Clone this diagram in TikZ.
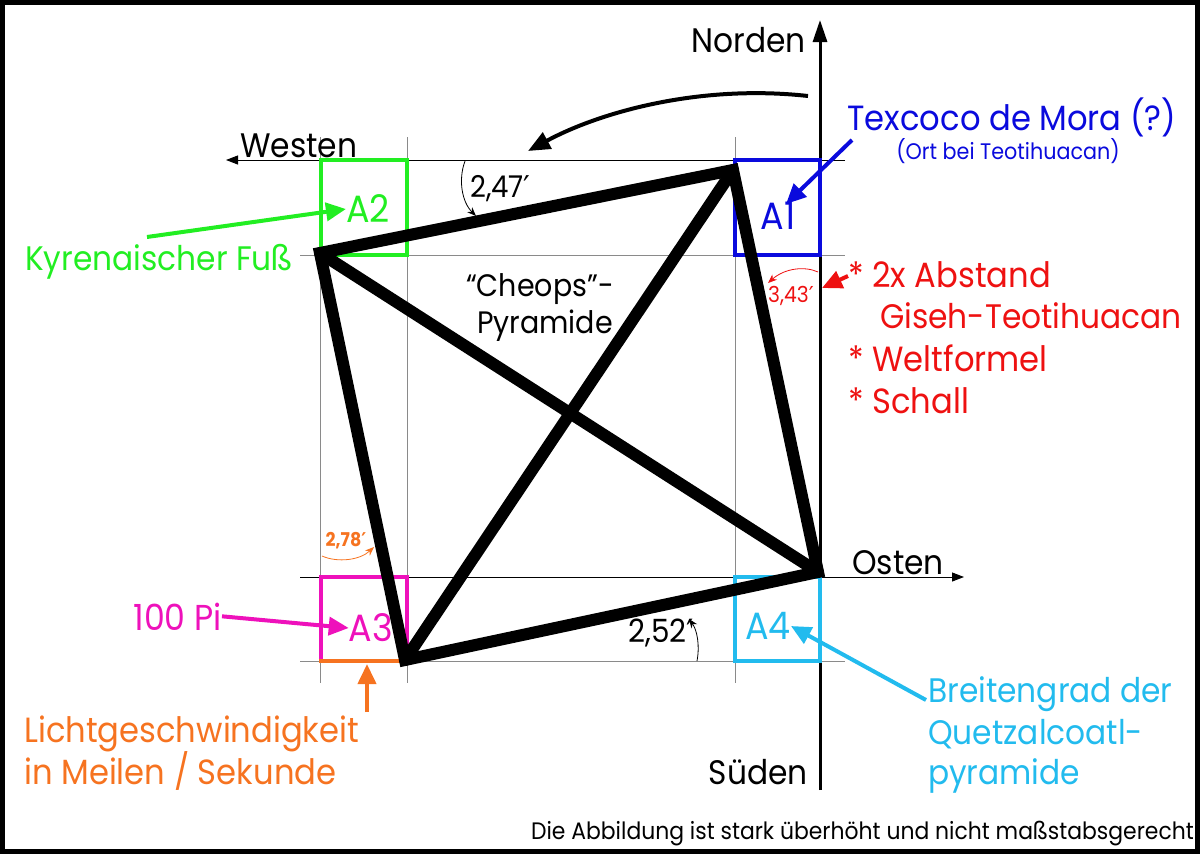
\documentclass[tikz,border=0pt]{standalone}
\usepackage{fontspec}
\setmainfont[FakeStretch=0.92]{Poppins}
\newfontfamily\primefont{DejaVu Sans}
\newcommand{\pr}{{\primefont ′}}
\usetikzlibrary{arrows.meta}
\definecolor{cgreen}{HTML}{22EE22}
\definecolor{cblue}{HTML}{0A0ADD}
\definecolor{cred}{HTML}{EE1111}
\definecolor{cmag}{HTML}{EE11BB}
\definecolor{ccyan}{HTML}{22BBEE}
\definecolor{corange}{HTML}{F67320}
\definecolor{cgrid}{HTML}{8A8A8A}
\tikzset{
  grid/.style={cgrid, line width=1pt},
  edge/.style={black, line width=12pt, line cap=round, line join=miter},
  abox/.style={line width=4pt},
  lbl/.style={inner sep=0pt, font=\fontsize{34}{40}\selectfont},
  ptr/.style={line width=4pt, -{Triangle[length=20pt,width=18pt]}},
  angarc/.style={line width=0.8pt, -{Stealth[length=9pt,width=7pt]}},
}
\begin{document}
\begin{tikzpicture}[x=1pt,y=-1pt]
\useasboundingbox (0,0) rectangle (1200,854);
\draw[line width=5pt] (2.5,2.5) rectangle (1197.5,851.5);
% grid
\draw[grid] (300,255) -- (845,255);
\draw[grid] (300,661) -- (845,661);
\foreach \gx in {320,407,735} \draw[grid] (\gx,137) -- (\gx,683);
\draw[line width=1pt, -{Triangle[length=12pt,width=9pt]}] (845,160) -- (226,160);
\draw[line width=1pt, -{Triangle[length=12pt,width=9pt]}] (300,577) -- (964,577);
\draw[line width=3pt, -{Triangle[length=22pt,width=14pt]}] (820,790) -- (820,20);
% axis labels
\node[lbl, anchor=base east] (nord) at (806,52) {Norden};
\node[lbl, anchor=base east] (sued) at (808,784) {Süden};
\node[lbl, anchor=base west] (west) at (240,157) {Westen};
\node[lbl, anchor=base west] (ost) at (852,574) {Osten};
% boxes
\draw[abox, cgreen] (321,160) rectangle (407,255);
\draw[abox, cblue] (735,160) rectangle (820,255);
\draw[abox, cmag] (321,661) -- (321,577) -- (407,577) -- (407,661);
\draw[abox, corange] (319,661) -- (409,661);
\draw[abox, ccyan] (735,577) rectangle (820,661);
\node[lbl, cgreen, font=\fontsize{38}{40}\selectfont] (a2) at (368,209) {A2};
\node[lbl, cblue, font=\fontsize{38}{40}\selectfont] (a1) at (778,216) {A1};
\node[lbl, cmag, font=\fontsize{38}{40}\selectfont] (a3) at (371,628) {A3};
\node[lbl, ccyan, font=\fontsize{38}{40}\selectfont] (a4) at (768,626) {A4};
% pyramid
\coordinate (ne) at (733,170);
\coordinate (nw) at (320,253);
\coordinate (sw) at (405,660);
\coordinate (se) at (818,572);
\draw[edge] (ne) -- (nw) -- (sw) -- (se) -- cycle;
\draw[edge] (nw) -- (se);
\draw[edge] (sw) -- (ne);
\node[lbl, anchor=base, font=\fontsize{31}{36}\selectfont] (ch1) at (540,296) {“Cheops”-};
\node[lbl, anchor=base, font=\fontsize{31}{36}\selectfont] (ch2) at (545,333) {Pyramide};
% rotation arrow
\coordinate (rs) at (808,96);
\coordinate (re) at (528,151);
\draw[line width=4pt, -{Triangle[length=22pt,width=18pt]}] (rs) .. controls (700,84) and (600,112) .. (re);
% angle marks
\coordinate (g1s) at (465,161);
\coordinate (g1e) at (476,216);
\draw[angarc] (g1s) .. controls (458,180) and (462,202) .. (g1e);
\node[lbl, anchor=base west, font=\fontsize{30}{32}\selectfont] (g1) at (470,197) {2,47\pr};
\coordinate (g2s) at (697,661);
\coordinate (g2e) at (689,619);
\draw[angarc] (g2s) .. controls (700,645) and (697,630) .. (g2e);
\node[lbl, anchor=base east, font=\fontsize{32}{34}\selectfont] (g2) at (694,642) {2,52\pr};
\coordinate (g3s) at (818,272);
\coordinate (g3e) at (768,283);
\draw[angarc, cred] (g3s) .. controls (805,266) and (785,268) .. (g3e);
\node[lbl, cred, anchor=base, font=\fontsize{22}{24}\selectfont] (g3) at (791,302) {3,43\pr};
\coordinate (g4s) at (322,556);
\coordinate (g4e) at (374,547);
\draw[angarc, corange] (g4s) .. controls (338,563) and (360,560) .. (g4e);
\node[lbl, corange, anchor=base, font=\bfseries\fontsize{19}{20}\selectfont] (g4) at (346,546) {2,78\pr};
% Texcoco
\node[lbl, cblue, font=\fontsize{35}{40}\selectfont, anchor=base] (tex) at (1012,130) {Texcoco de Mora (?)};
\node[lbl, cblue, font=\fontsize{22.5}{26}\selectfont, anchor=base] (tex2) at (1008,159) {(Ort bei Teotihuacan)};
\coordinate (tp) at (852,140);
\draw[ptr, cblue] (tp) -- (786,204);
% Kyrenaischer
\node[lbl, cgreen, anchor=base west, font=\fontsize{34}{40}\selectfont] (kyr) at (25,270) {Kyrenaischer Fuß};
\coordinate (kp) at (147,237);
\draw[ptr, cgreen] (kp) -- (a2.west);
% red list
\node[lbl, cred, anchor=base west, font=\fontsize{35}{40}\selectfont] (r1) at (848,287) {* 2x Abstand};
\node[lbl, cred, anchor=base west, font=\fontsize{34}{40}\selectfont] (r2) at (880,328) {Giseh-Teotihuacan};
\node[lbl, cred, anchor=base west, font=\fontsize{35}{40}\selectfont] (r3) at (848,371) {* Weltformel};
\node[lbl, cred, anchor=base west, font=\fontsize{35}{40}\selectfont] (r4) at (848,413) {* Schall};
\coordinate (rp) at (848,276);
\coordinate (rq) at (822,288);
\draw[ptr, cred] (rp) -- (rq);
% 100 Pi
\node[lbl, cmag, anchor=base east, font=\fontsize{36}{40}\selectfont] (pi) at (222,630) {100 Pi};
\draw[ptr, cmag] (pi.east) -- (a3.west);
% Licht
\coordinate (lp) at (367,712);
\coordinate (lq) at (367,664);
\draw[ptr, corange] (lp) -- (lq);
\node[lbl, corange, anchor=base west, font=\fontsize{35}{40}\selectfont] (l1) at (24,742) {Lichtgeschwindigkeit};
\node[lbl, corange, anchor=base west, font=\fontsize{35}{40}\selectfont] (l2) at (24,784) {in Meilen / Sekunde};
% Breitengrad
\node[lbl, ccyan, anchor=base west, font=\fontsize{34}{40}\selectfont] (b1) at (928,702) {Breitengrad der};
\node[lbl, ccyan, anchor=base west, font=\fontsize{34}{40}\selectfont] (b2) at (928,744) {Quetzalcoatl-};
\node[lbl, ccyan, anchor=base west, font=\fontsize{34}{40}\selectfont] (b3) at (928,784) {pyramide};
\coordinate (bp) at (926,700);
\draw[ptr, ccyan] (bp) -- (a4.east);
% footnote
\node[lbl, anchor=base east, font=\fontsize{23.8}{26}\selectfont] (foot) at (1194,839) {Die Abbildung ist stark überhöht und nicht maßstabsgerecht};
\end{tikzpicture}
\end{document}
